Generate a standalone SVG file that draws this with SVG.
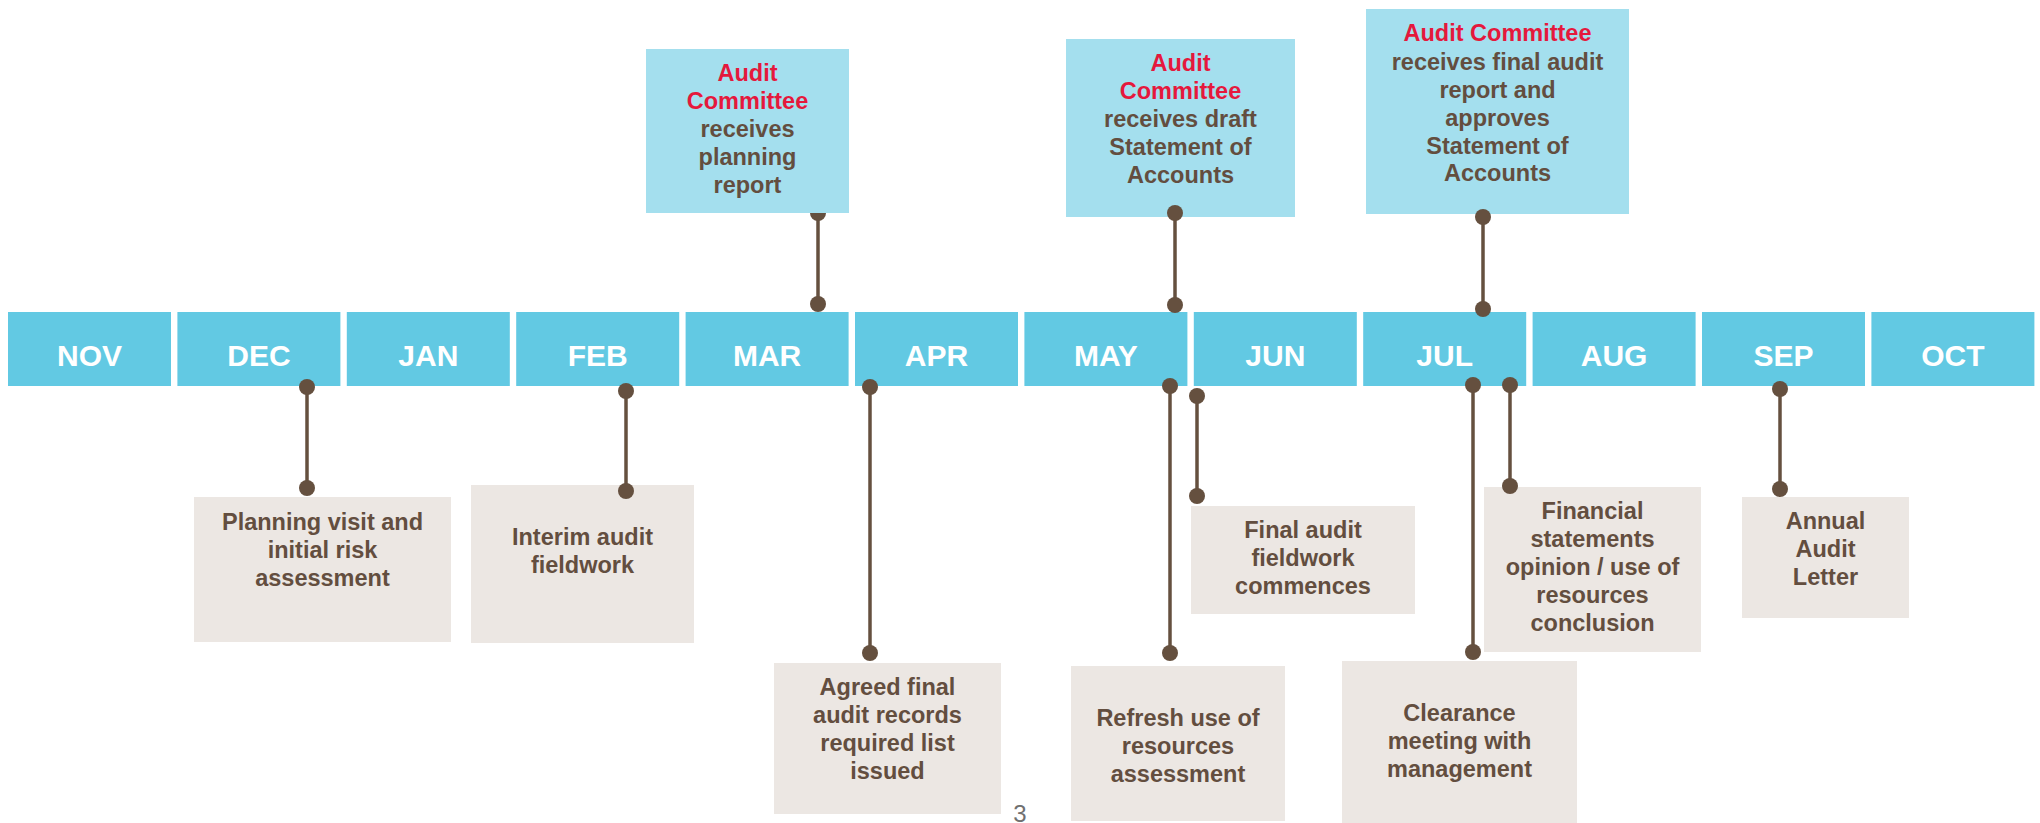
<svg xmlns="http://www.w3.org/2000/svg" width="2040" height="823" viewBox="0 0 2040 823">
<style>
.month{fill:#62c9e3}
.mt{font-family:"Liberation Sans",Arial,sans-serif;font-weight:bold;font-size:30px;fill:#ffffff;text-anchor:middle}
.top{fill:#a4dfee}
.low{fill:#ece7e3}
.t{font-family:"Liberation Sans",Arial,sans-serif;font-weight:bold;font-size:23.5px;fill:#634e3f;text-anchor:middle}
.red{fill:#e5183c}
.ln{stroke:#65503f;stroke-width:3.5;fill:none}
.dot{fill:#65503f}
.pg{font-family:"Liberation Sans",Arial,sans-serif;font-size:24px;fill:#707070;text-anchor:middle}
</style>
<rect width="2040" height="823" fill="#ffffff"/>
<g id="months">
<g id="m-nov"><rect class="month" x="8" y="312" width="163" height="74"/><text class="mt" x="89.5" y="366">NOV</text></g>
<g id="m-dec"><rect class="month" x="177.4" y="312" width="163" height="74"/><text class="mt" x="258.9" y="366">DEC</text></g>
<g id="m-jan"><rect class="month" x="346.8" y="312" width="163" height="74"/><text class="mt" x="428.3" y="366">JAN</text></g>
<g id="m-feb"><rect class="month" x="516.2" y="312" width="163" height="74"/><text class="mt" x="597.7" y="366">FEB</text></g>
<g id="m-mar"><rect class="month" x="685.6" y="312" width="163" height="74"/><text class="mt" x="767.1" y="366">MAR</text></g>
<g id="m-apr"><rect class="month" x="855" y="312" width="163" height="74"/><text class="mt" x="936.5" y="366">APR</text></g>
<g id="m-may"><rect class="month" x="1024.4" y="312" width="163" height="74"/><text class="mt" x="1105.9" y="366">MAY</text></g>
<g id="m-jun"><rect class="month" x="1193.8" y="312" width="163" height="74"/><text class="mt" x="1275.3" y="366">JUN</text></g>
<g id="m-jul"><rect class="month" x="1363.2" y="312" width="163" height="74"/><text class="mt" x="1444.7" y="366">JUL</text></g>
<g id="m-aug"><rect class="month" x="1532.6" y="312" width="163" height="74"/><text class="mt" x="1614.1" y="366">AUG</text></g>
<g id="m-sep"><rect class="month" x="1702" y="312" width="163" height="74"/><text class="mt" x="1783.5" y="366">SEP</text></g>
<g id="m-oct"><rect class="month" x="1871.4" y="312" width="163" height="74"/><text class="mt" x="1952.9" y="366">OCT</text></g>
</g>
<g id="top-planning"><rect class="top" x="646" y="49" width="203" height="164"/>
<text class="t" x="747.5"><tspan class="red" x="747.5" y="81">Audit</tspan><tspan class="red" x="747.5" y="109">Committee</tspan><tspan x="747.5" y="137">receives</tspan><tspan x="747.5" y="165">planning</tspan><tspan x="747.5" y="193">report</tspan></text></g>
<g id="top-draft"><rect class="top" x="1066" y="39" width="229" height="178"/>
<text class="t" x="1180.5"><tspan class="red" x="1180.5" y="71">Audit</tspan><tspan class="red" x="1180.5" y="99">Committee</tspan><tspan x="1180.5" y="127">receives draft</tspan><tspan x="1180.5" y="155">Statement of</tspan><tspan x="1180.5" y="183">Accounts</tspan></text></g>
<g id="top-final"><rect class="top" x="1366" y="9" width="263" height="205"/>
<text class="t" x="1497.5"><tspan class="red" x="1497.5" y="41">Audit Committee</tspan><tspan x="1497.5" y="70">receives final audit</tspan><tspan x="1497.5" y="98">report and</tspan><tspan x="1497.5" y="126">approves</tspan><tspan x="1497.5" y="154">Statement of</tspan><tspan x="1497.5" y="181">Accounts</tspan></text></g>
<g id="low-planning"><rect class="low" x="194" y="497" width="257" height="145"/>
<text class="t"><tspan x="322.5" y="530">Planning visit and</tspan><tspan x="322.5" y="558">initial risk</tspan><tspan x="322.5" y="586">assessment</tspan></text></g>
<g id="low-interim"><rect class="low" x="471" y="485" width="223" height="158"/>
<text class="t"><tspan x="582.5" y="545">Interim audit</tspan><tspan x="582.5" y="573">fieldwork</tspan></text></g>
<g id="low-agreed"><rect class="low" x="774" y="663" width="227" height="151"/>
<text class="t"><tspan x="887.5" y="695">Agreed final</tspan><tspan x="887.5" y="723">audit records</tspan><tspan x="887.5" y="751">required list</tspan><tspan x="887.5" y="779">issued</tspan></text></g>
<g id="low-refresh"><rect class="low" x="1071" y="666" width="214" height="155"/>
<text class="t"><tspan x="1178" y="726">Refresh use of</tspan><tspan x="1178" y="754">resources</tspan><tspan x="1178" y="782">assessment</tspan></text></g>
<g id="low-finalwork"><rect class="low" x="1191" y="506" width="224" height="108"/>
<text class="t"><tspan x="1303" y="538">Final audit</tspan><tspan x="1303" y="566">fieldwork</tspan><tspan x="1303" y="594">commences</tspan></text></g>
<g id="low-clearance"><rect class="low" x="1342" y="661" width="235" height="162"/>
<text class="t"><tspan x="1459.5" y="721">Clearance</tspan><tspan x="1459.5" y="749">meeting with</tspan><tspan x="1459.5" y="777">management</tspan></text></g>
<g id="low-financial"><rect class="low" x="1484" y="487" width="217" height="165"/>
<text class="t"><tspan x="1592.5" y="519">Financial</tspan><tspan x="1592.5" y="547">statements</tspan><tspan x="1592.5" y="575">opinion / use of</tspan><tspan x="1592.5" y="603">resources</tspan><tspan x="1592.5" y="631">conclusion</tspan></text></g>
<g id="low-annual"><rect class="low" x="1742" y="497" width="167" height="121"/>
<text class="t"><tspan x="1825.5" y="529">Annual</tspan><tspan x="1825.5" y="557">Audit</tspan><tspan x="1825.5" y="585">Letter</tspan></text></g>
<g id="connectors">
<line class="ln" x1="818" y1="213" x2="818" y2="304"/><path class="dot" d="M810,213 A8,8 0 0 0 826,213 Z"/><circle class="dot" cx="818" cy="304" r="8"/>
<line class="ln" x1="1175" y1="213" x2="1175" y2="305"/><circle class="dot" cx="1175" cy="213" r="8"/><circle class="dot" cx="1175" cy="305" r="8"/>
<line class="ln" x1="1483" y1="217" x2="1483" y2="309"/><circle class="dot" cx="1483" cy="217" r="8"/><circle class="dot" cx="1483" cy="309" r="8"/>
<line class="ln" x1="307" y1="387" x2="307" y2="488"/><circle class="dot" cx="307" cy="387" r="8"/><circle class="dot" cx="307" cy="488" r="8"/>
<line class="ln" x1="626" y1="391" x2="626" y2="491"/><circle class="dot" cx="626" cy="391" r="8"/><circle class="dot" cx="626" cy="491" r="8"/>
<line class="ln" x1="870" y1="387" x2="870" y2="653"/><circle class="dot" cx="870" cy="387" r="8"/><circle class="dot" cx="870" cy="653" r="8"/>
<line class="ln" x1="1170" y1="386" x2="1170" y2="653"/><circle class="dot" cx="1170" cy="386" r="8"/><circle class="dot" cx="1170" cy="653" r="8"/>
<line class="ln" x1="1197" y1="396" x2="1197" y2="496"/><circle class="dot" cx="1197" cy="396" r="8"/><circle class="dot" cx="1197" cy="496" r="8"/>
<line class="ln" x1="1473" y1="385" x2="1473" y2="652"/><circle class="dot" cx="1473" cy="385" r="8"/><circle class="dot" cx="1473" cy="652" r="8"/>
<line class="ln" x1="1510" y1="385" x2="1510" y2="486"/><circle class="dot" cx="1510" cy="385" r="8"/><circle class="dot" cx="1510" cy="486" r="8"/>
<line class="ln" x1="1780" y1="389" x2="1780" y2="489"/><circle class="dot" cx="1780" cy="389" r="8"/><circle class="dot" cx="1780" cy="489" r="8"/>
</g>
<text class="pg" x="1020" y="822">3</text>
</svg>
